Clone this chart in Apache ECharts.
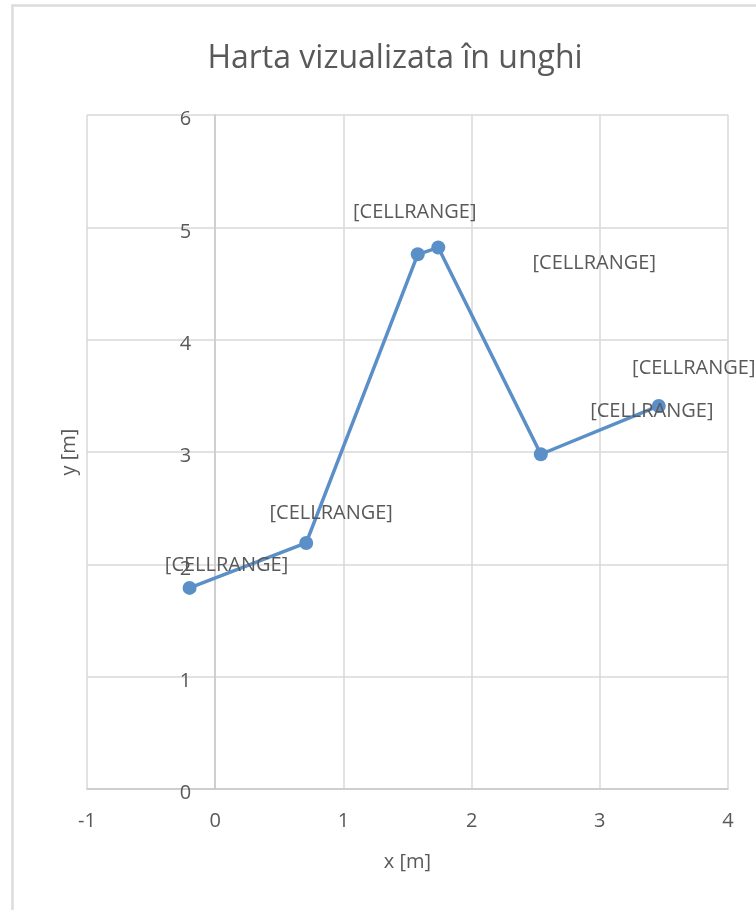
<!DOCTYPE html>
<html>
<head>
<meta charset="utf-8">
<script src="https://cdn.jsdelivr.net/npm/echarts@6/dist/echarts.min.js"></script>
<style>
  html, body { margin: 0; padding: 0; background: #ffffff; }
  #chart { width: 756px; height: 910px; }
</style>
</head>
<body>
<div id="chart"></div>
<script>
// Measured track coordinates (metres)
const xValues = [-0.2, 0.71, 1.58, 1.74, 2.54, 3.46];
const yValues = [1.79, 2.19, 4.76, 4.82, 2.98, 3.41];
const pointLabels = ['[CELLRANGE]', '[CELLRANGE]', '[CELLRANGE]', '[CELLRANGE]', '[CELLRANGE]', '[CELLRANGE]'];

const titleText = 'Harta vizualizata în unghi';
const xAxisName = 'x [m]';
const yAxisName = 'y [m]';

// Where each point label sits relative to its marker, in pixels
const labelOffsets = [[37, -23], [25, -30], [-3, -42], [156, 16], [111, -43], [35, -38]];

const FONT = '"Open Sans", "Noto Sans", sans-serif';
const TEXT = '#595959';

const GRID = { left: 87, right: 28, top: 115, bottom: 121 };
const X_MIN = -1, X_MAX = 4;
// The y axis crosses the x axis at x = 0
const plotWidth = 756 - GRID.left - GRID.right;
const yAxisShift = -plotWidth * (0 - X_MIN) / (X_MAX - X_MIN);

const seriesData = xValues.map((x, i) => [x, yValues[i]]);

const chart = echarts.init(document.getElementById('chart'), null, { renderer: 'canvas' });
chart.setOption({
  backgroundColor: '#ffffff',
  animation: false,
  title: {
    text: titleText,
    left: 390,
    top: 38,
    textAlign: 'center',
    textStyle: { fontFamily: FONT, fontSize: 32, fontWeight: 'normal', color: TEXT }
  },
  graphic: [{
    type: 'rect',
    shape: { x: 12.5, y: 5.5, width: 800, height: 1000 },
    style: { fill: 'none', stroke: '#dcdcdc', lineWidth: 2.5 },
    silent: true
  }],
  grid: Object.assign({ containLabel: false, outerBoundsMode: 'none' }, GRID),
  xAxis: {
    type: 'value',
    min: X_MIN, max: X_MAX, interval: 1,
    name: xAxisName,
    nameLocation: 'middle',
    nameGap: 63,
    nameTextStyle: { fontFamily: FONT, fontSize: 20, color: TEXT },
    axisLine: { show: true, onZero: false, lineStyle: { color: '#c8c8c8', width: 1.5 } },
    axisTick: { show: false },
    axisLabel: { fontFamily: FONT, fontSize: 20, color: TEXT, margin: 22 },
    splitLine: { show: true, lineStyle: { color: '#d9d9d9', width: 1.5 } }
  },
  yAxis: {
    type: 'value',
    min: 0, max: 6, interval: 1,
    offset: yAxisShift,
    name: yAxisName,
    nameLocation: 'middle',
    nameGap: 136,
    nameTextStyle: { fontFamily: FONT, fontSize: 20, color: TEXT },
    axisLine: { show: true, onZero: false, lineStyle: { color: '#c8c8c8', width: 1.5 } },
    axisTick: { show: false },
    axisLabel: {
      margin: 24,
      formatter: '{v|{value}}',
      rich: { v: { fontFamily: FONT, fontSize: 20, color: TEXT, padding: [9, 0, 0, 0] } }
    },
    splitLine: { show: true, lineStyle: { color: '#d9d9d9', width: 1.5 } }
  },
  series: [{
    type: 'line',
    data: seriesData,
    symbol: 'circle',
    symbolSize: 14,
    itemStyle: { color: '#5b8fc8' },
    lineStyle: { color: '#5b8fc8', width: 3.5 },
    label: {
      show: true,
      position: 'inside',
      fontFamily: FONT, fontSize: 20, color: TEXT,
      formatter: (p) => pointLabels[p.dataIndex]
    },
    labelLayout: (p) => ({
      dx: labelOffsets[p.dataIndex][0],
      dy: labelOffsets[p.dataIndex][1],
      hideOverlap: false
    }),
    z: 3
  }]
});
</script>
</body>
</html>
